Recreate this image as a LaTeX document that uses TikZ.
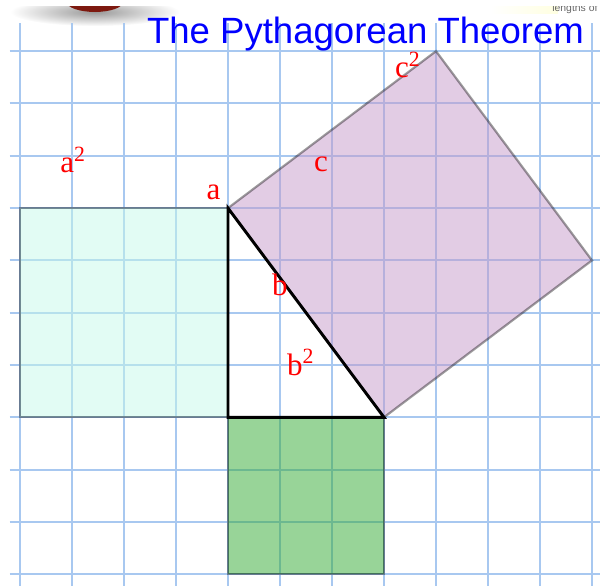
\documentclass[tikz,border=0pt]{standalone}
\usepackage{fontspec}
\setmainfont{Liberation Serif}
\newfontfamily\titlefont{Liberation Sans}

\definecolor{gridblue}{RGB}{168,200,240}
\definecolor{sqcyan}{RGB}{197,249,233}
\definecolor{sqgreen}{RGB}{49,169,49}
\definecolor{sqpurple}{RGB}{197,153,201}
\definecolor{darkred}{RGB}{125,25,15}

\begin{document}
\begin{tikzpicture}[x=1cm,y=1.0058cm,
  gridline/.style={gridblue,line width=1.1pt},
  sq/.style={fill opacity=0.5,draw=black,draw opacity=0.38,line width=1.2pt},
  lbl/.style={text=red,font=\fontsize{17}{17}\selectfont,inner sep=0pt}]

\useasboundingbox (-4.385,-3.207) rectangle (7.308,7.979);

% clipped bits at the top edge
\begin{scope}
\clip (-4.385,-3.207) rectangle (7.308,7.845);
\shade[inner color=gray!80,outer color=white] (-2.56,7.75) ellipse (1.63 and 0.27);
\fill[darkred] (-2.56,7.94) ellipse (0.54 and 0.19);
\shade[left color=white,right color=yellow!12] (5.04,7.727) rectangle (6.35,7.88);
\node[anchor=base west,inner sep=0pt,text=gray!80!black,font=\titlefont\fontsize{5.7}{5.7}\selectfont] (cut) at (6.23,7.75) {lengths of};
\end{scope}

% grid
\foreach \x in {-4,...,7} \draw[gridline] (\x,-3.4) -- (\x,7.54);
\foreach \y in {-3,...,7} \draw[gridline] (-4.2,\y) -- (7.15,\y);

\coordinate (C) at (0,0);
\coordinate (A) at (0,4);
\coordinate (B) at (3,0);
\coordinate (D) at (7,3);
\coordinate (E) at (4,7);

\filldraw[sq,fill=sqcyan] (-4,0) rectangle (A);        % a^2
\filldraw[sq,fill=sqgreen] (C) rectangle (3,-3);        % b^2
\filldraw[sq,fill=sqpurple] (A) -- (B) -- (D) -- (E) -- cycle; % c^2

\draw[line width=1.6pt,line join=miter] (A) -- (C) -- (B) -- cycle;

\node[anchor=base,text=blue,font=\titlefont\fontsize{20}{20}\selectfont] (title) at (2.644,7.138) {The Pythagorean Theorem};

\node[lbl] (asq) at (-2.98,4.92) {a\textsuperscript{2}};
\node[lbl] (alab) at (-0.28,4.30) {a};
\node[lbl] (clab) at (1.79,4.83) {c};
\node[lbl] (csq) at (3.46,6.74) {c\textsuperscript{2}};
\node[lbl] (blab) at (1.0,2.53) {b};
\node[lbl] (bsq) at (1.40,1.05) {b\textsuperscript{2}};

\end{tikzpicture}
\end{document}
